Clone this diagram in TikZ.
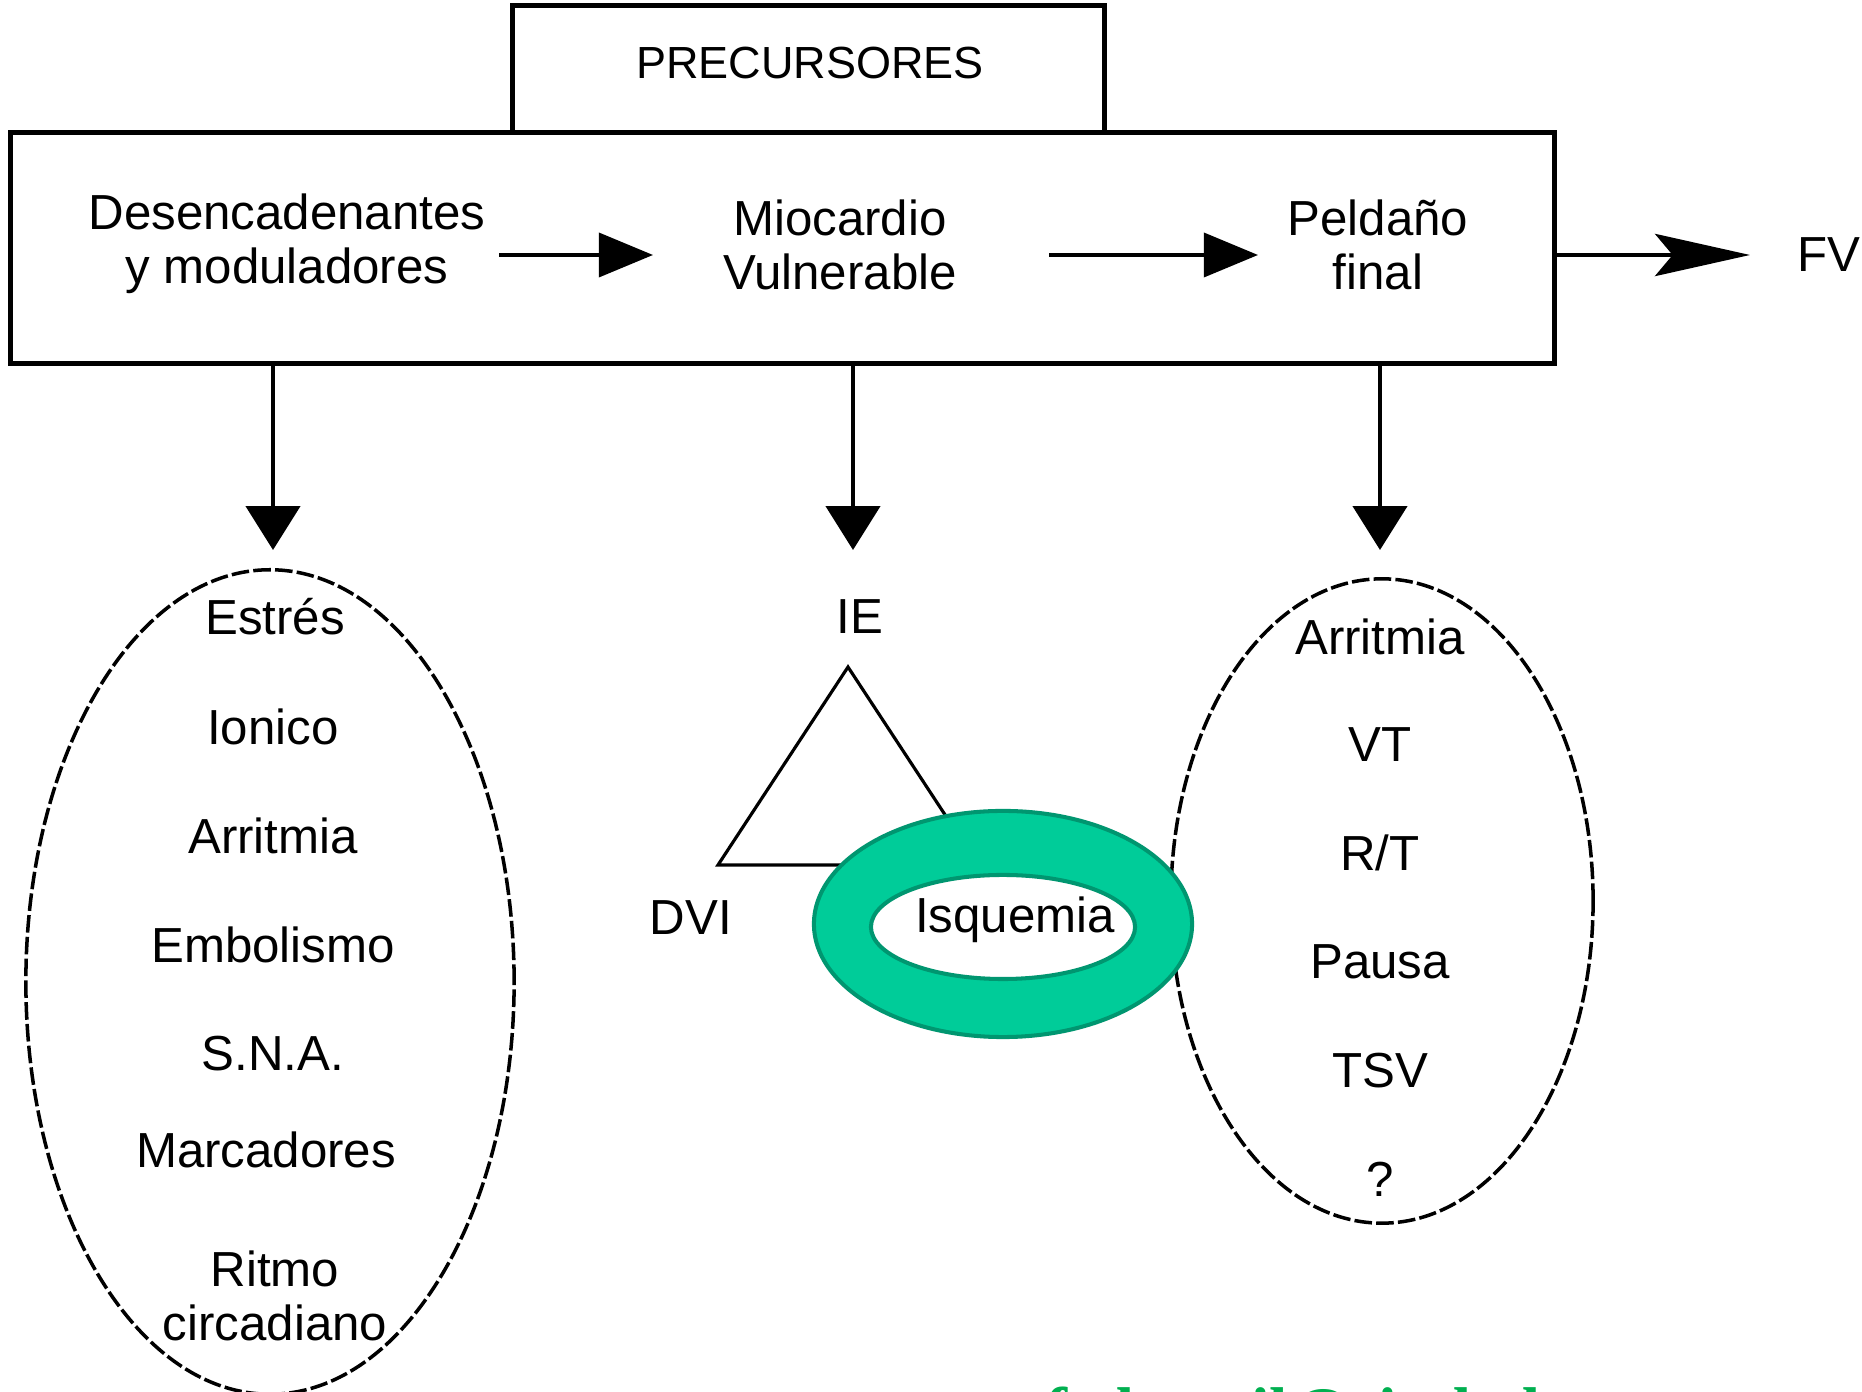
\documentclass[tikz,border=0pt]{standalone}
\usepackage{fontspec}
\setmainfont{Liberation Sans}
\newfontfamily\mailfont{Liberation Serif}
\usetikzlibrary{arrows.meta,shapes.geometric}
\definecolor{ringfill}{RGB}{0,204,153}
\definecolor{ringline}{RGB}{0,150,112}
\definecolor{mailgreen}{RGB}{0,176,80}

\begin{document}
\begin{tikzpicture}[x=0.01cm, y=-0.01cm,
  lbl/.style={font=\fontsize{14pt}{15.5pt}\selectfont, inner sep=0pt, align=center},
  frame/.style={draw, line width=1.4pt, inner sep=0pt},
  harrow/.style={line width=1.15pt, -{Triangle[length=15.4pt,width=12.5pt]}},
  varrow/.style={line width=1.15pt, -{Triangle[length=12.5pt,width=15.4pt]}},
  fvarrow/.style={line width=1.15pt, -{Stealth[length=27pt,width=12pt,inset=5pt]}},
  oval/.style={ellipse, draw, line width=1pt, dash pattern=on 5pt off 1.2pt, inner sep=0pt},
]
\useasboundingbox (0,0) rectangle (1862,1392);
\clip (0,0) rectangle (1862,1392);
\fill[white] (0,0) rectangle (1862,1392);

% header tab and main frame
\node[frame, minimum width=5.91cm, minimum height=1.27cm] (prec) at (808.5,69.5) {};
\node[lbl, font=\fontsize{12.8pt}{14pt}\selectfont] (precT) at (810,63) {PRECURSORES};
\node[frame, minimum width=15.43cm, minimum height=2.30cm] (main) at (782.5,248) {};

% the three stages
\node[lbl] (desc) at (287,244) {Desencadenantes\\y moduladores};
\node[lbl] (mio) at (840,245) {Miocardio\\Vulnerable};
\node[lbl] (pel) at (1378,245) {Peldaño\\final};
\node[lbl] (fv) at (1829,255) {FV};

% horizontal flow
\coordinate (h1a) at (499,255);
\coordinate (h1b) at (653,255);
\coordinate (h2a) at (1049,255);
\coordinate (h2b) at (1258,255);
\coordinate (h3b) at (1750,255);
\draw[harrow] (h1a) -- (h1b);
\draw[harrow] (h2a) -- (h2b);
\draw[fvarrow] (main.east |- h3b) -- (h3b);

% downward arrows
\coordinate (d1b) at (273,550);
\coordinate (d2b) at (853,550);
\coordinate (d3b) at (1380,550);
\draw[varrow] (main.south -| d1b) -- (d1b);
\draw[varrow] (main.south -| d2b) -- (d2b);
\draw[varrow] (main.south -| d3b) -- (d3b);

% left group
\node[oval, minimum width=4.88cm, minimum height=8.24cm] (leftOval) at (270,982) {};
\node[lbl] (l1) at (275,617) {Estrés};
\node[lbl] (l2) at (273,727) {Ionico};
\node[lbl] (l3) at (273,836) {Arritmia};
\node[lbl] (l4) at (273,945) {Embolismo};
\node[lbl] (l5) at (273,1054) {S.N.A.};
\node[lbl] (l6) at (266,1150) {Marcadores};
\node[lbl] (l7) at (275,1296) {Ritmo\\circadiano};

% middle group
\node[lbl] (ie) at (860,617) {IE};
\draw[line width=0.9pt] (848,667) -- (718,865) -- (978,865) -- cycle;
\node[lbl] (dvi) at (691,918) {DVI};

% right group
\node[oval, minimum width=4.22cm, minimum height=6.44cm] (rightOval) at (1382,901) {};
\node[lbl] (r1) at (1380,637) {Arritmia};
\node[lbl] (r2) at (1380,745) {VT};
\node[lbl] (r3) at (1380,853) {R/T};
\node[lbl] (r4) at (1380,962) {Pausa};
\node[lbl] (r5) at (1380,1071) {TSV};
\node[lbl] (r6) at (1380,1179) {?};

% ischemia ring
\path[fill=ringfill, even odd rule, draw=ringline, line width=1.15pt]
  (1003,924) ellipse [x radius=1.89cm, y radius=1.13cm]
  (1003,927) ellipse [x radius=1.32cm, y radius=0.52cm];
\node[lbl] (isq) at (1015,920) {Isquemia};

% contact address along the lower edge
\node[anchor=base west, inner sep=0pt, text=mailgreen,
      font=\mailfont\bfseries\fontsize{18.8pt}{20pt}\selectfont] (mail) at (1045,1434) {fcdemail@ciudad.com.ar};
\end{tikzpicture}
\end{document}
